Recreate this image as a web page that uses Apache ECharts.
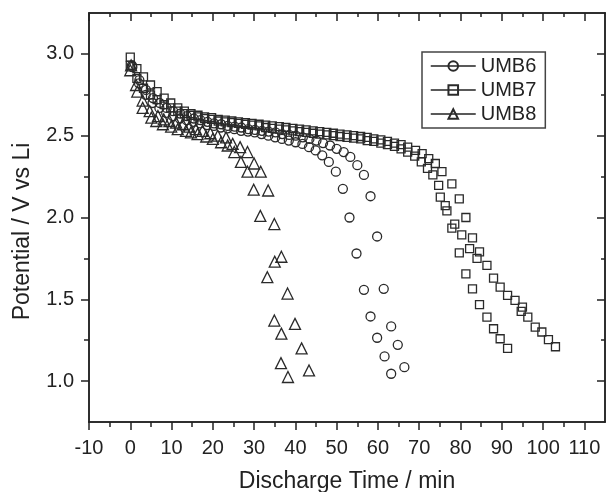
<!DOCTYPE html>
<html><head><meta charset="utf-8">
<script src="https://cdn.jsdelivr.net/npm/echarts@6/dist/echarts.min.js"></script>
<style>html,body{margin:0;padding:0;background:#fff}#c{width:606px;height:492px}</style>
</head><body><div id="c"></div>
<script>
// ---- data (time in min, potential in V) ----
const seriesNames = ['UMB6', 'UMB7', 'UMB8'];
const umb6 = [
  [0.4,2.93],[2.1,2.82],[3.75,2.75],[5.4,2.70],[7.05,2.67],[8.7,2.64],[10.35,2.62],[12.0,2.605],[13.65,2.595],[15.3,2.585],
  [16.95,2.575],[18.6,2.565],[20.25,2.56],[21.9,2.55],[23.55,2.545],[25.2,2.54],[26.85,2.53],[28.5,2.525],[30.15,2.52],[31.8,2.51],
  [33.45,2.50],[35.1,2.49],[36.75,2.48],[38.4,2.47],[40.05,2.46],[41.7,2.45],[43.3,2.43],[44.9,2.41],[46.5,2.38],[48.1,2.34],
  [49.8,2.28],[51.5,2.175],[53.1,2.0],[54.8,1.78],[56.6,1.558],[58.2,1.395],[59.8,1.265],[61.6,1.151],[63.2,1.045],
  [0.5,2.92],[2.2,2.84],[3.8,2.78],[5.5,2.73],[7.1,2.70],[8.8,2.67],[10.4,2.65],[12.1,2.635],[13.7,2.62],[15.4,2.605],
  [17.0,2.595],[18.7,2.585],[20.3,2.575],[22.0,2.57],[23.6,2.56],[25.3,2.555],[26.9,2.55],[28.6,2.54],[30.2,2.535],[31.9,2.53],
  [33.5,2.525],[35.2,2.52],[36.8,2.51],[38.5,2.505],[40.1,2.50],[41.8,2.49],[43.4,2.48],[45.1,2.47],[46.7,2.455],[48.4,2.44],
  [50.0,2.42],[51.7,2.40],[53.3,2.37],[55.0,2.32],[56.6,2.26],[58.2,2.13],[59.8,1.884],[61.4,1.564],[63.2,1.334],[64.8,1.222],[66.4,1.085]
];
const umb7 = [
  [0,2.98],[1.6,2.91],[3.2,2.86],[4.9,2.81],[6.5,2.77],[8.2,2.73],[9.8,2.70],[11.5,2.67],[13.1,2.65],[14.7,2.635],
  [16.4,2.625],[18.0,2.615],[19.7,2.61],[21.3,2.60],[23.0,2.595],[24.6,2.59],[26.2,2.585],[27.9,2.58],[29.5,2.575],[31.2,2.57],
  [32.8,2.565],[34.4,2.56],[36.1,2.555],[37.7,2.55],[39.4,2.545],[41.0,2.54],[42.6,2.535],[44.3,2.53],[45.9,2.525],[47.6,2.52],
  [49.2,2.515],[50.8,2.51],[52.5,2.505],[54.1,2.50],[55.8,2.495],[57.4,2.49],[59.0,2.48],[60.7,2.475],[62.3,2.465],[64.0,2.455],
  [65.6,2.445],[67.2,2.43],[69.1,2.41],[70.7,2.39],[72.3,2.36],[73.9,2.33],[75.5,2.28],[77.9,2.206],[79.7,2.114],[81.3,2.0],
  [82.9,1.876],[84.6,1.79],[86.4,1.707],[88.0,1.63],[89.6,1.574],[91.4,1.524],[93.2,1.493],[95.0,1.452],[96.3,1.391],[98.1,1.33],
  [99.7,1.30],[101.3,1.253],[103.0,1.21],
  [80.3,1.894],[82.2,1.81],[84.0,1.75],[94.7,1.426],[75.1,2.124],[76.7,2.04],[78.6,1.96],
  [0,2.93],[1.6,2.85],[3.2,2.79],[4.9,2.75],[6.5,2.72],[8.2,2.69],[9.8,2.67],[11.5,2.65],[13.1,2.635],[14.7,2.625],
  [16.4,2.615],[18.0,2.605],[19.7,2.60],[21.3,2.59],[23.0,2.585],[24.6,2.58],[26.2,2.575],[27.9,2.57],[29.5,2.565],[31.2,2.56],
  [32.8,2.55],[34.4,2.545],[36.1,2.54],[37.7,2.535],[39.4,2.53],[41.0,2.525],[42.6,2.52],[44.3,2.515],[45.9,2.51],[47.6,2.505],
  [49.2,2.50],[50.8,2.495],[52.5,2.49],[54.1,2.485],[55.8,2.48],[57.4,2.47],[59.0,2.465],[60.7,2.455],[62.3,2.445],[64.0,2.435],
  [65.6,2.42],[67.2,2.40],[68.9,2.375],[70.5,2.34],[72.0,2.30],[73.3,2.26],[74.7,2.196],[76.3,2.073],[77.9,1.935],[79.7,1.784],
  [81.3,1.656],[82.9,1.564],[84.6,1.467],[86.4,1.391],[88.0,1.32],[89.6,1.259],[91.4,1.20]
];
const umb8 = [
  [0.2,2.93],[1.7,2.77],[3.0,2.67],[5.1,2.61],[6.3,2.59],[7.9,2.57],[9.9,2.556],[11.5,2.54],[13.5,2.53],[14.7,2.52],
  [16.3,2.51],[18.4,2.495],[20.0,2.48],[22.0,2.46],[23.6,2.44],[25.2,2.40],[26.8,2.34],[28.4,2.28],[29.9,2.17],[31.5,2.01],
  [33.2,1.635],[34.9,1.37],[36.5,1.11],
  [0,2.90],[1.4,2.81],[3.0,2.715],[4.7,2.65],[6.7,2.62],[8.1,2.60],[9.5,2.59],[11.1,2.58],[12.7,2.57],[14.3,2.555],
  [15.9,2.54],[17.5,2.53],[19.4,2.515],[21.2,2.50],[23.2,2.49],[24.8,2.45],[26.6,2.43],[28.4,2.40],[30.0,2.33],[31.6,2.28],
  [33.4,2.165],[34.9,1.96],[36.6,1.76],[38.1,1.535],[39.9,1.35],[41.5,1.20],[43.3,1.065],
  [35.0,1.73],[36.6,1.29],[38.2,1.025]
];
const symbols = ['circle', 'rect', 'triangle'];
const symbolSizes = [9, 8, 11];
const xMajorTicks = [-10,0,10,20,30,40,50,60,70,80,90,100,110];
const xMinorTicks = [-5,5,15,25,35,45,55,65,75,85,95,105];
const yMajorTicks = [1.0,1.5,2.0,2.5,3.0];
const yMinorTicks = [1.25,1.75,2.25,2.75];
const xRange = [-10, 115];
const yRange = [0.75, 3.25];

const FONT = 'Liberation Sans, Arial, sans-serif';
const INK = '#222';
function axisBase() {
  return { type:'value', splitLine:{show:false},
    axisLine:{show:true, onZero:false, lineStyle:{color:INK, width:1.5}} };
}
function xAx(pos, ticks, len, inside, labels) {
  const a = axisBase();
  a.position = pos; a.min = xRange[0]; a.max = xRange[1];
  a.axisTick = {show:true, inside:inside, length:len, customValues:ticks, lineStyle:{color:INK, width:1.5}};
  a.axisLabel = labels ? {show:true, customValues:ticks, margin:16, fontFamily:FONT, fontSize:20, color:INK} : {show:false};
  return a;
}
function yAx(pos, ticks, len, inside, labels) {
  const a = axisBase();
  a.position = pos; a.min = yRange[0]; a.max = yRange[1];
  a.axisTick = {show:true, inside:inside, length:len, customValues:ticks, lineStyle:{color:INK, width:1.5}};
  a.axisLabel = labels ? {show:true, customValues:ticks, margin:15, fontFamily:FONT, fontSize:20, color:INK,
      formatter:v => Number(v).toFixed(1)} : {show:false};
  return a;
}
const xAxes = [
  Object.assign(xAx('bottom', xMajorTicks, 8, false, true), {name:'Discharge Time / min', nameLocation:'middle', nameGap:48,
    nameTextStyle:{fontFamily:FONT, fontSize:23, color:INK}}),
  xAx('bottom', xMinorTicks, 5, false, false),
  xAx('top', xMajorTicks, 8, true, false),
  xAx('top', xMinorTicks, 4, true, false)
];
const yAxes = [
  Object.assign(yAx('left', yMajorTicks, 8, false, true), {name:'Potential / V vs Li', nameLocation:'middle', nameGap:55,
    nameTextStyle:{fontFamily:FONT, fontSize:23, color:INK, padding:[0,28,0,0]}}),
  yAx('left', yMinorTicks, 5, false, false),
  yAx('right', yMajorTicks, 8, true, false),
  yAx('right', yMinorTicks, 4, true, false)
];
const datasets = [umb6, umb7, umb8];
const chart = echarts.init(document.getElementById('c'), null, {renderer:'canvas'});
chart.setOption({
  animation:false,
  backgroundColor:'#fff',
  grid:{left:89, right:1, top:13, bottom:70, containLabel:false, outerBoundsMode:'none'},
  xAxis:xAxes,
  yAxis:yAxes,
  legend:{
    orient:'vertical', left:422, top:52, padding:[4,9,4,8], itemGap:4,
    itemWidth:45, itemHeight:12, borderColor:'#444', borderWidth:1.5,
    textStyle:{fontFamily:FONT, fontSize:20, color:INK, lineHeight:20},
    lineStyle:{color:INK, width:1.5, opacity:1},
    data:seriesNames
  },
  series:seriesNames.map((n,i) => ({
    name:n, type:'line', data:datasets[i], xAxisIndex:0, yAxisIndex:0,
    symbol:symbols[i], symbolSize:symbolSizes[i], showSymbol:true,
    lineStyle:{opacity:0, width:0},
    itemStyle:{color:'rgba(0,0,0,0)', borderColor:'#2a2a2a', borderWidth:1.3},
    emphasis:{disabled:true}
  }))
});
</script></body></html>
